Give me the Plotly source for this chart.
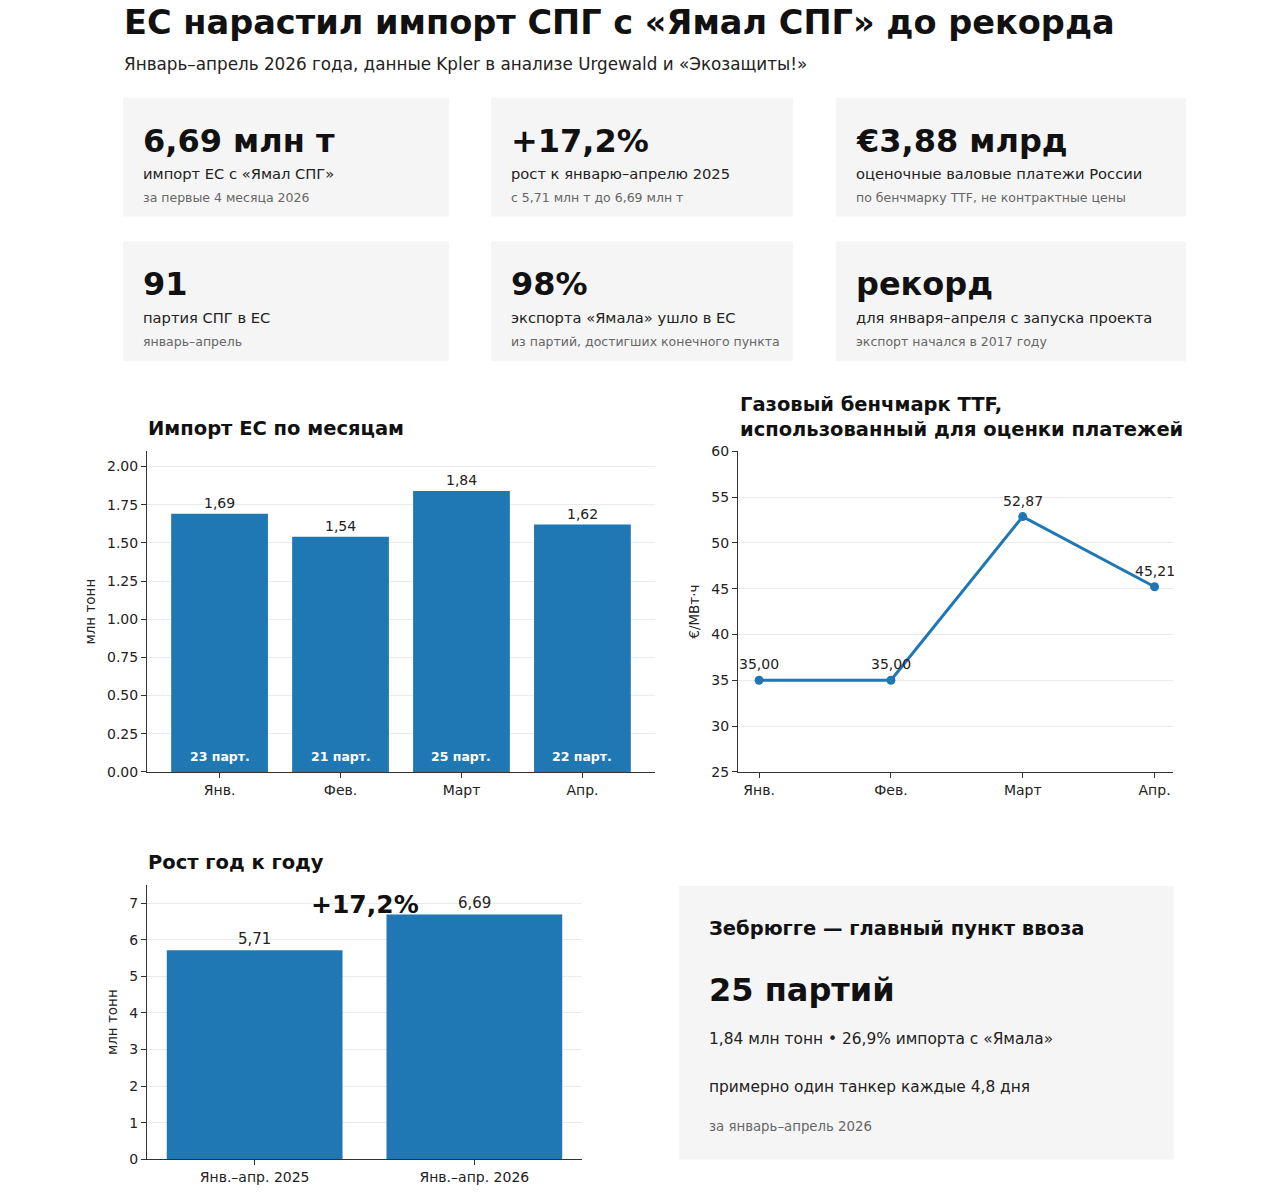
import plotly.graph_objects as go

W, H = 1280, 1195
FONT = "DejaVu Sans"
BLUE = "#1f77b4"

# ---------------- data ----------------
months = ["Янв.", "Фев.", "Март", "Апр."]
monthly_import = [1.69, 1.54, 1.84, 1.62]          # млн т
monthly_cargoes = [23, 21, 25, 22]                 # партий
ttf_price = [35.00, 35.00, 52.87, 45.21]           # €/МВт·ч
yoy_periods = ["Янв.–апр. 2025", "Янв.–апр. 2026"]
yoy_import = [5.71, 6.69]                          # млн т
yoy_growth_label = "+17,2%"

cards = [
    ("6,69 млн т", "импорт ЕС с «Ямал СПГ»", "за первые 4 месяца 2026"),
    ("+17,2%", "рост к январю–апрелю 2025", "с 5,71 млн т до 6,69 млн т"),
    ("€3,88 млрд", "оценочные валовые платежи России", "по бенчмарку TTF, не контрактные цены"),
    ("91", "партия СПГ в ЕС", "январь–апрель"),
    ("98%", "экспорта «Ямала» ушло в ЕС", "из партий, достигших конечного пункта"),
    ("рекорд", "для января–апреля с запуска проекта", "экспорт начался в 2017 году"),
]


def X(px):
    return px / W


def Y(py):
    # compensate for the small vertical offset/scale observed in the rendered page
    return 1 - ((py - 6.2) / 0.9878) / H


def XT(px):
    # left-anchored text: compensate annotation padding
    return (px - 2.5) / W


def fmt(v, d=2):
    return f"{v:.{d}f}".replace(".", ",")


fig = go.Figure()
shapes = []
ann = []

# ---------------- header ----------------
ann.append(dict(x=XT(124), y=Y(21), xref="paper", yref="paper", xanchor="left", yanchor="middle",
                text="<b>ЕС нарастил импорт СПГ с «Ямал СПГ» до рекорда</b>", showarrow=False,
                font=dict(family=FONT, size=33.6, color="#111111")))
ann.append(dict(x=XT(124), y=Y(62), xref="paper", yref="paper", xanchor="left", yanchor="middle",
                text="Январь–апрель 2026 года, данные Kpler в анализе Urgewald и «Экозащиты!»", showarrow=False,
                font=dict(family=FONT, size=16.8, color="#222222")))

# ---------------- KPI cards ----------------
card_x = [(123, 449), (491, 793), (836, 1186)]
card_y = [(96, 215), (240, 360)]
for i, (big, mid, small) in enumerate(cards):
    r, c = divmod(i, 3)
    x0, x1 = card_x[c]
    y0, y1 = card_y[r]
    shapes.append(dict(type="rect", xref="paper", yref="paper", x0=X(x0), x1=X(x1), y0=Y(y1), y1=Y(y0),
                       fillcolor="#f5f5f5", line=dict(width=0), layer="below"))
    tx = x0 + 20
    ann.append(dict(x=XT(tx), y=Y(y0 + 43), xref="paper", yref="paper", xanchor="left", yanchor="middle",
                    text=f"<b>{big}</b>", showarrow=False, font=dict(family=FONT, size=32, color="#111111")))
    ann.append(dict(x=XT(tx), y=Y(y0 + 76), xref="paper", yref="paper", xanchor="left", yanchor="middle",
                    text=mid, showarrow=False, font=dict(family=FONT, size=14.7, color="#222222")))
    ann.append(dict(x=XT(tx), y=Y(y0 + 100), xref="paper", yref="paper", xanchor="left", yanchor="middle",
                    text=small, showarrow=False, font=dict(family=FONT, size=12.5, color="#666666")))

# ---------------- chart 1: monthly imports ----------------
fig.add_trace(go.Bar(x=list(range(len(months))), y=monthly_import, marker=dict(color=BLUE, line=dict(width=0)),
                     width=0.8, xaxis="x", yaxis="y", hoverinfo="skip", showlegend=False))
for i, v in enumerate(monthly_import):
    ann.append(dict(x=i, y=v, xref="x", yref="y", xanchor="center", yanchor="bottom", yshift=1,
                    text=fmt(v), showarrow=False, font=dict(family=FONT, size=14, color="#222222")))
    ann.append(dict(x=i, y=0, xref="x", yref="y", xanchor="center", yanchor="bottom", yshift=6,
                    text=f"<b>{monthly_cargoes[i]} парт.</b>", showarrow=False,
                    font=dict(family=FONT, size=12.5, color="white")))
ann.append(dict(x=XT(148), y=Y(427), xref="paper", yref="paper", xanchor="left", yanchor="middle",
                text="<b>Импорт ЕС по месяцам</b>", showarrow=False, font=dict(family=FONT, size=19.5, color="#111111")))

# ---------------- chart 2: TTF ----------------
fig.add_trace(go.Scatter(x=list(range(len(months))), y=ttf_price, mode="lines+markers",
                         line=dict(color=BLUE, width=3), marker=dict(color=BLUE, size=9),
                         xaxis="x2", yaxis="y2", hoverinfo="skip", showlegend=False))
for i, v in enumerate(ttf_price):
    ann.append(dict(x=i, y=v, xref="x2", yref="y2", xanchor="center", yanchor="bottom", yshift=6,
                    text=fmt(v), showarrow=False, font=dict(family=FONT, size=14, color="#222222")))
ann.append(dict(x=XT(740), y=Y(416), xref="paper", yref="paper", xanchor="left", yanchor="middle", align="left",
                text="<b>Газовый бенчмарк TTF,<br>использованный для оценки платежей</b>", showarrow=False,
                font=dict(family=FONT, size=19.5, color="#111111")))

# ---------------- chart 3: YoY ----------------
fig.add_trace(go.Bar(x=list(range(len(yoy_periods))), y=yoy_import, marker=dict(color=BLUE, line=dict(width=0)),
                     width=0.8, xaxis="x3", yaxis="y3", hoverinfo="skip", showlegend=False))
for i, v in enumerate(yoy_import):
    ann.append(dict(x=i, y=v, xref="x3", yref="y3", xanchor="center", yanchor="bottom", yshift=0,
                    text=fmt(v), showarrow=False, font=dict(family=FONT, size=15, color="#222222")))
ann.append(dict(x=0.5, y=yoy_import[1], xref="x3", yref="y3", xanchor="center", yanchor="bottom", yshift=-7,
                text=f"<b>{yoy_growth_label}</b>", showarrow=False, font=dict(family=FONT, size=25, color="#111111")))
ann.append(dict(x=XT(148), y=Y(862), xref="paper", yref="paper", xanchor="left", yanchor="middle",
                text="<b>Рост год к году</b>", showarrow=False, font=dict(family=FONT, size=19.5, color="#111111")))

# ---------------- Zeebrugge card ----------------
shapes.append(dict(type="rect", xref="paper", yref="paper", x0=X(679), x1=X(1174), y0=Y(1159), y1=Y(885),
                   fillcolor="#f5f5f5", line=dict(width=0), layer="below"))
zb = [
    ("<b>Зебрюгге — главный пункт ввоза</b>", 928, 19.5, "#111111"),
    ("<b>25 партий</b>", 989, 32, "#111111"),
    ("1,84 млн тонн • 26,9% импорта с «Ямала»", 1038, 15.4, "#222222"),
    ("примерно один танкер каждые 4,8 дня", 1087, 15.4, "#222222"),
    ("за январь–апрель 2026", 1126, 13.3, "#666666"),
]
for t, py, sz, col in zb:
    ann.append(dict(x=XT(709), y=Y(py), xref="paper", yref="paper", xanchor="left", yanchor="middle",
                    text=t, showarrow=False, font=dict(family=FONT, size=sz, color=col)))

# ---------------- axes ----------------
axis_common = dict(showline=True, linecolor="#333333", linewidth=1, ticks="outside", ticklen=5,
                   tickcolor="#333333", tickfont=dict(family=FONT, size=14, color="#222222"), zeroline=False)
title_font = dict(family=FONT, size=13.5, color="#222222")

fig.update_layout(
    width=W, height=H, margin=dict(l=0, r=0, t=0, b=0),
    paper_bgcolor="white", plot_bgcolor="white",
    font=dict(family=FONT), bargap=0.2,
    shapes=shapes, annotations=ann,
    xaxis=dict(domain=[X(147), X(655)], range=[-0.6, 3.6], tickvals=list(range(4)), ticktext=months,
               showgrid=False, anchor="y", **axis_common),
    yaxis=dict(domain=[Y(771), Y(450)], range=[0, 2.1], tickvals=[0, 0.25, 0.5, 0.75, 1, 1.25, 1.5, 1.75, 2.0],
               tickformat=".2f", showgrid=True, gridcolor="#ebebeb", anchor="x",
               title=dict(text="млн тонн", font=title_font, standoff=8),
               **axis_common),
    xaxis2=dict(domain=[X(738), X(1173)], range=[-0.16, 3.14], tickvals=list(range(4)), ticktext=months,
                showgrid=False, anchor="y2", **axis_common),
    yaxis2=dict(domain=[Y(771), Y(450)], range=[25, 60], tickvals=[25, 30, 35, 40, 45, 50, 55, 60],
                showgrid=True, gridcolor="#ebebeb", anchor="x2",
                title=dict(text="€/МВт·ч", font=title_font, standoff=8),
                **axis_common),
    xaxis3=dict(domain=[X(147), X(582)], range=[-0.49, 1.49], tickvals=[0, 1], ticktext=yoy_periods,
                showgrid=False, anchor="y3", **axis_common),
    yaxis3=dict(domain=[Y(1159), Y(884)], range=[0, 7.5], tickvals=list(range(8)),
                showgrid=True, gridcolor="#ebebeb", anchor="x3",
                title=dict(text="млн тонн", font=title_font, standoff=8),
                **axis_common),
)

fig.write_html("out.html")
